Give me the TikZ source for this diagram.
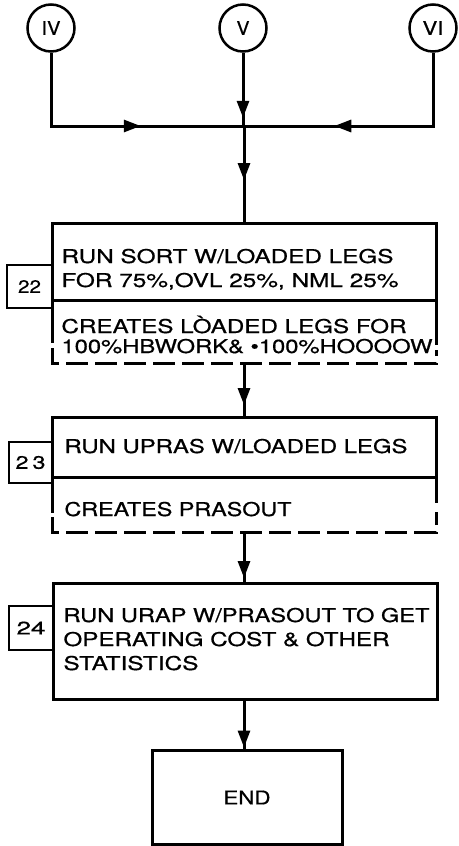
\documentclass[tikz,border=0pt]{standalone}
\usepackage{fontspec}
\usepackage{graphicx}
\setmainfont{TeX Gyre Heros}[FakeBold=0.6]
\usetikzlibrary{arrows.meta,decorations.markings}
\newcommand{\fw}[2]{\resizebox{#1}{\height}{#2}}
\begin{document}
\begin{tikzpicture}[x=1pt,y=-1pt,
  line width=3pt, line cap=butt,
  txt/.style={anchor=base west, inner sep=0pt, font=\fontsize{19}{20}\selectfont},
  circ/.style={circle, draw, minimum size=47pt, inner sep=0pt, line width=2.5pt, font=\fontsize{19}{20}\selectfont},
  box/.style={draw, rectangle, inner sep=0pt, line width=3pt},
  numbox/.style={draw, rectangle, inner sep=0pt, line width=2.5pt, font=\fontsize{18}{20}\selectfont},
  flow/.style={postaction={decorate}, decoration={markings, mark=at position #1 with {\arrow{Triangle[length=17pt,width=12pt]}}}},
  lowdash/.style={dash pattern=on 22pt off 7pt}
]
\useasboundingbox (0,0) rectangle (458,846);

% connector circles
\node[circ] (IV) at (51,28) {\fw{19pt}{IV}};
\node[circ] (V) at (243,28) {\fw{13pt}{V}};
\node[circ] (VI) at (433,28) {\fw{21pt}{VI}};
\coordinate (J) at (244,126);

% step 22
\node[box, minimum width=384pt, minimum height=77pt] (b22) at (244,261.5) {};
\coordinate (b22b) at (244,363);
\draw (52,300) -- (52,343);
\draw (436,300) -- (436,345);
\draw[lowdash] (52,348) -- (52,363) -- (436,363) -- (436,350);
\node[numbox, minimum width=45pt, minimum height=43pt] (l22) at (29.5,286.5) {\fw{23pt}{22}};
\node[txt] (t22a) at (60,263) {\fw{332pt}{RUN SORT W/LOADED LEGS}};
\node[txt] (t22b) at (60,287) {\fw{337pt}{FOR 75\%,OVL 25\%, NML 25\%}};
\node[txt] (t22c) at (60,333) {\fw{345pt}{CREATES LÒADED LEGS FOR}};
\node[txt] (t22d) at (60,353) {\fw{371pt}{100\%HBWORK\& •100\%HOOOOW}};

% step 23
\node[box, minimum width=384pt, minimum height=60pt] (b23) at (244,447) {};
\coordinate (b23b) at (244,532);
\draw (52,477) -- (52,513);
\draw (436,477) -- (436,503);
\draw[lowdash] (52,517) -- (52,532) -- (436,532) -- (436,512);
\node[numbox, minimum width=43pt, minimum height=41pt] (l23) at (30.5,462.5) {\fw{30pt}{2\,3}};
\node[txt] (t23a) at (63,453) {\fw{343pt}{RUN UPRAS W/LOADED LEGS}};
\node[txt] (t23b) at (63,516) {\fw{227pt}{CREATES PRASOUT}};

% step 24
\node[box, minimum width=384pt, minimum height=116pt] (b24) at (245,641) {};
\node[numbox, minimum width=44pt, minimum height=44pt] (l24) at (31,628) {\fw{29pt}{24}};
\node[txt] (t24a) at (62,622) {\fw{366pt}{RUN URAP W/PRASOUT TO GET}};
\node[txt] (t24b) at (62,646) {\fw{326pt}{OPERATING COST \& OTHER}};
\node[txt] (t24c) at (62,670) {\fw{135pt}{STATISTICS}};

% end
\node[box, minimum width=190pt, minimum height=94pt, font=\fontsize{19}{20}\selectfont] (end) at (247,797.5) {\fw{47pt}{END}};

% connectors
\draw[flow=163pt] (IV.south) |- (J);
\draw[flow=172pt] (VI.south) |- (J);
\draw[flow=65pt] (V.south) -- (V.south |- J);
\draw[flow=54pt] (J) -- (b22.north);
\draw[flow=42pt] (b22b) -- (b23.north);
\draw[flow=46pt] (b23b) -- (b24.north -| b23b);
\draw[flow=47pt] (b24.south -| b23b) -- (end.north -| b23b);
\end{tikzpicture}
\end{document}
